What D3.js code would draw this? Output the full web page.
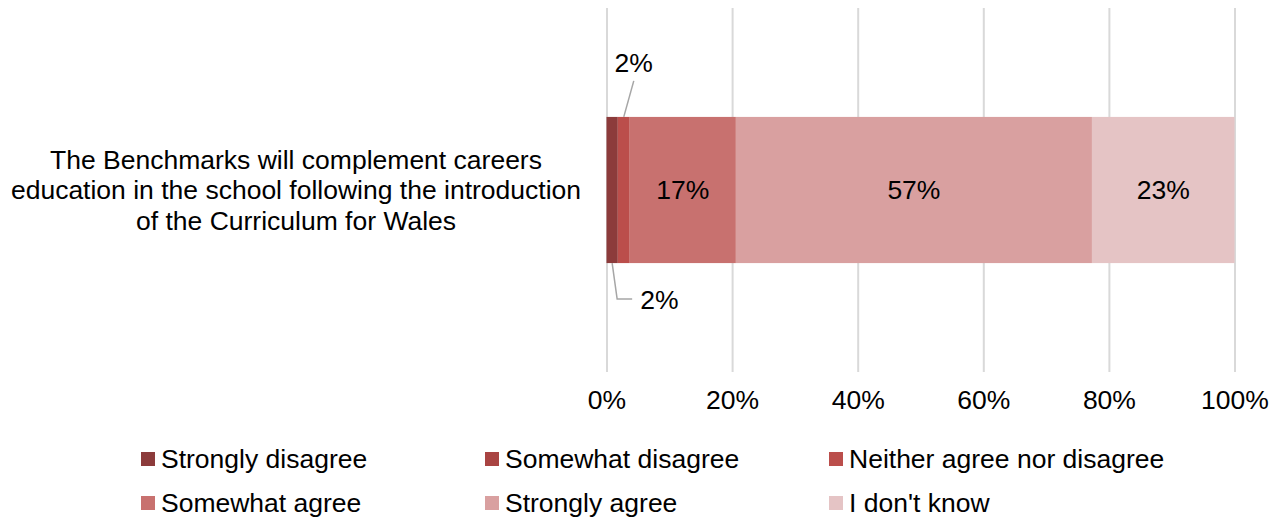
<!DOCTYPE html>
<html>
<head>
<meta charset="utf-8">
<script src="https://cdn.jsdelivr.net/npm/d3@7"></script>
<style>
  html, body { margin: 0; padding: 0; background: #fff; }
  svg { display: block; font-family: "Liberation Sans", Arial, sans-serif; }
</style>
</head>
<body>
<svg id="chart" width="1277" height="519"></svg>
<script>
// Survey statement and response shares (percent of respondents)
const categories = ["The Benchmarks will complement careers education in the school following the introduction of the Curriculum for Wales"];
const categoryLines = ["The Benchmarks will complement careers", "education in the school following the introduction", "of the Curriculum for Wales"];
const responses = ["Strongly disagree", "Somewhat disagree", "Neither agree nor disagree", "Somewhat agree", "Strongly agree", "I don't know"];
const values = [1.8, 0, 1.9, 16.9, 56.7, 22.7];
const colors = ["#8c3b3b", "#a94442", "#bb4e4b", "#c8716f", "#d9a0a0", "#e5c4c5"];
const xTicks = [0, 20, 40, 60, 80, 100];

const svg = d3.select("#chart");
const FONT = 26.5;
const plot = { left: 606.5, right: 1234.5, top: 8, bottom: 372 };

const x = d3.scaleLinear().domain([0, 100]).range([plot.left, plot.right]);
const y = d3.scaleBand().domain(categories).range([plot.top, plot.bottom]).padding(0.427);
const color = d3.scaleOrdinal().domain(responses).range(colors);

// Gridlines
svg.append("g")
  .attr("transform", `translate(0,${plot.bottom})`)
  .call(d3.axisBottom(x).tickValues(xTicks).tickSize(-(plot.bottom - plot.top)).tickFormat(""))
  .call(g => g.select(".domain").remove())
  .call(g => g.selectAll("line").attr("stroke", "#d9d9d9").attr("stroke-width", 2));

// Axis tick labels
svg.append("g")
  .attr("transform", `translate(0,${plot.bottom})`)
  .call(d3.axisBottom(x).tickValues(xTicks).tickSize(0).tickPadding(18).tickFormat(d => d + "%"))
  .call(g => g.select(".domain").remove())
  .call(g => g.selectAll("text").attr("font-size", FONT).attr("fill", "#000")
    .attr("font-family", "Liberation Sans, Arial, sans-serif").attr("dy", "0.71em"));

// Stacked segments
const row = {}; responses.forEach((r, i) => row[r] = values[i]);
const stacked = d3.stack().keys(responses)([row]);
const segs = stacked.map(s => ({ key: s.key, x0: s[0][0], x1: s[0][1], v: s[0].data[s.key] }));
const cat = categories[0];
const barTop = y(cat), barBot = y(cat) + y.bandwidth(), barMid = barTop + y.bandwidth() / 2;

svg.append("g").selectAll("rect")
  .data(segs.filter(d => d.v > 0))
  .join("rect")
  .attr("x", d => x(d.x0))
  .attr("width", d => x(d.x1) - x(d.x0))
  .attr("y", barTop)
  .attr("height", y.bandwidth())
  .attr("fill", d => color(d.key));

const fmt = v => Math.round(v) + "%";

// Labels inside the wide segments
svg.append("g").selectAll("text")
  .data(segs.filter(d => d.v >= 10))
  .join("text")
  .attr("x", d => (x(d.x0) + x(d.x1)) / 2)
  .attr("y", barMid)
  .attr("dy", "0.35em")
  .attr("text-anchor", "middle")
  .attr("font-size", FONT)
  .attr("fill", "#000")
  .text(d => fmt(d.v));

// Callout labels for the narrow segments
const leader = svg.append("g").attr("fill", "none").attr("stroke", "#a6a6a6").attr("stroke-width", 1.5);
const sd = segs.find(d => d.key === "Strongly disagree");
const nd = segs.find(d => d.key === "Neither agree nor disagree");

const ndX = (x(nd.x0) + x(nd.x1)) / 2;
leader.append("path").attr("d", `M${ndX},${barTop} L${ndX + 10},${barTop - 36}`);
svg.append("text").attr("x", ndX + 10).attr("y", barTop - 54).attr("dy", "0.35em")
  .attr("text-anchor", "middle").attr("font-size", FONT).text(fmt(nd.v));

const sdX = (x(sd.x0) + x(sd.x1)) / 2;
leader.append("path").attr("d", `M${sdX},${barBot} L${sdX + 5},${barBot + 36} L${sdX + 20},${barBot + 36}`);
svg.append("text").attr("x", sdX + 28).attr("y", barBot + 37).attr("dy", "0.35em")
  .attr("text-anchor", "start").attr("font-size", FONT).text(fmt(sd.v));

// Category label
const lineH = 30.5;
svg.append("text")
  .attr("x", 296)
  .attr("y", barMid - lineH)
  .attr("text-anchor", "middle")
  .attr("font-size", FONT)
  .attr("fill", "#000")
  .selectAll("tspan")
  .data(categoryLines)
  .join("tspan")
  .attr("x", 296)
  .attr("y", (d, i) => barMid + (i - 1) * lineH)
  .attr("dy", "0.35em")
  .text(d => d);

// Legend
const legend = svg.append("g");
const colW = 344, rowH = 44;
const items = legend.selectAll("g")
  .data(responses)
  .join("g")
  .attr("transform", (d, i) => `translate(${141 + (i % 3) * colW},${459 + Math.floor(i / 3) * rowH})`);
items.append("rect").attr("x", 0).attr("y", -7).attr("width", 14).attr("height", 14).attr("fill", d => color(d));
items.append("text").attr("x", 20).attr("y", 0).attr("dy", "0.35em")
  .attr("font-size", FONT).attr("fill", "#000").text(d => d);
</script>
</body>
</html>
